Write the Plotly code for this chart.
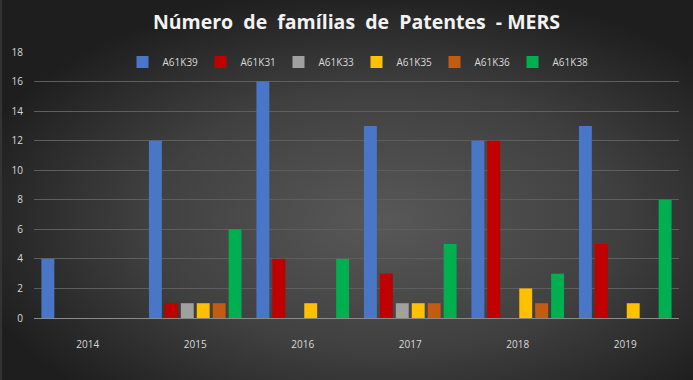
import plotly.graph_objects as go
import base64

years = ["2014", "2015", "2016", "2017", "2018", "2019"]
series_names = ["A61K39", "A61K31", "A61K33", "A61K35", "A61K36", "A61K38"]
a61k39 = [4, 12, 16, 13, 12, 13]
a61k31 = [0, 1, 4, 3, 12, 5]
a61k33 = [0, 1, 0, 1, 0, 0]
a61k35 = [0, 1, 1, 1, 2, 1]
a61k36 = [0, 1, 0, 1, 1, 0]
a61k38 = [0, 6, 4, 5, 3, 8]
values = [a61k39, a61k31, a61k33, a61k35, a61k36, a61k38]
colors = ["#4a76c8", "#c00000", "#a0a0a0", "#ffc000", "#c55a11", "#00b050"]

W, H = 693, 380
ml, mr, mt, mb = 32, 14, 52, 62

fig = go.Figure()
for name, vals, col in zip(series_names, values, colors):
    fig.add_trace(go.Bar(x=years, y=vals, name=name, marker=dict(color=col, line=dict(width=0))))

svg = f'''<svg xmlns="http://www.w3.org/2000/svg" width="{W}" height="{H}" viewBox="0 0 {W} {H}">
<defs><radialGradient id="g" cx="0.55" cy="0.58" r="0.62" gradientUnits="objectBoundingBox">
<stop offset="0" stop-color="#585858"/><stop offset="0.55" stop-color="#404040"/><stop offset="1" stop-color="#1e1e1e"/></radialGradient></defs>
<rect width="{W}" height="{H}" fill="url(#g)"/></svg>'''
uri = "data:image/svg+xml;base64," + base64.b64encode(svg.encode()).decode()

pw, ph = W - ml - mr, H - mt - mb
fig.add_layout_image(dict(source=uri, xref="paper", yref="paper",
                          x=-ml / pw, y=1 + mt / ph, sizex=W / pw, sizey=H / ph,
                          xanchor="left", yanchor="top", sizing="stretch", layer="below"))

nb = "\u00a0"
title_text = f"Número{nb}{nb}de{nb}{nb}famílias{nb}{nb}de{nb}{nb}Patentes{nb}{nb}-{nb}MERS"

fig.update_layout(
    width=W, height=H,
    margin=dict(l=ml, r=mr, t=mt, b=mb),
    paper_bgcolor="#333333", plot_bgcolor="rgba(0,0,0,0)",
    barmode="group", bargap=0.11, bargroupgap=0.19,
    title=dict(text=title_text, x=0.5, xref="paper", xanchor="center",
               y=1 - 22 / H, yanchor="middle",
               font=dict(family="Open Sans", size=19.5, color="#f2f2f2", weight="bold")),
    legend=dict(orientation="h", x=0.5, xanchor="center", y=1 - 10 / ph, yanchor="middle",
                font=dict(family="Open Sans", size=10, color="#d9d9d9"),
                itemwidth=30, entrywidth=33, entrywidthmode="pixels",
                tracegroupgap=0, bgcolor="rgba(0,0,0,0)"),
    font=dict(family="Open Sans", color="#d9d9d9"),
    showlegend=True,
)
fig.update_xaxes(showgrid=False, tickfont=dict(size=10, color="#d9d9d9"), ticks="",
                 ticklabelstandoff=17,
                 showline=True, linecolor="#8a8a8a", linewidth=1)
fig.update_yaxes(range=[0, 18], dtick=2, showgrid=True, gridcolor="#5e5e5e", gridwidth=1,
                 ticklabelstandoff=10,
                 zeroline=False, tickfont=dict(size=10, color="#d9d9d9"), ticks="", showline=False)

fig.write_html("out.html", config={"displayModeBar": False},
               post_script="document.body.style.margin='0';document.body.style.overflow='hidden';")
